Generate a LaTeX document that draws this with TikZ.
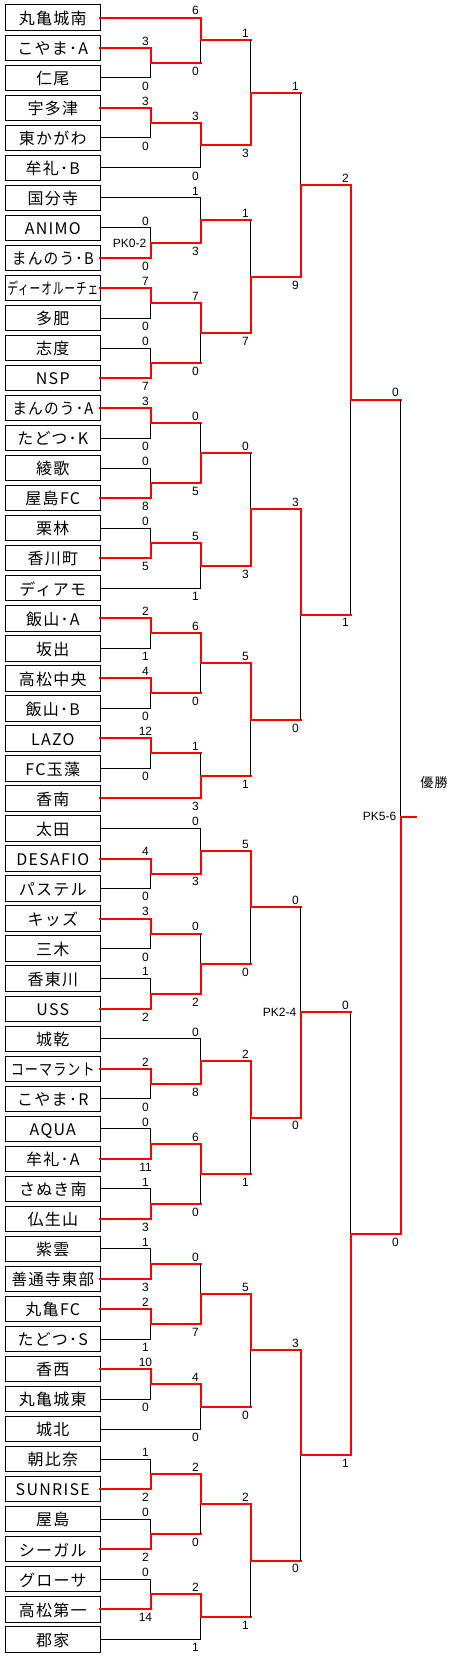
\documentclass[tikz,border=0pt]{standalone}
\usepackage{fontspec}
\setmainfont{Liberation Sans}
\newfontfamily\jp[LetterSpace=8]{Noto Sans CJK JP}
\usepackage{graphicx}
\usetikzlibrary{positioning, calc}

% name, column, upper, lower, winner (u/l), loser line style, upper score, lower score
\newcommand\match[8]{%
  \coordinate (#1) at ($(#2 |- #3)!.5!(#2 |- #4)$);
  \if u#5
    \draw[#6] (#4) -- (#2 |- #4);
    \draw[lose] (#2 |- #4) -- (#1);
    \draw[win] (#3) -| (#1);
  \else
    \draw[#6] (#3) -- (#2 |- #3);
    \draw[lose] (#2 |- #3) -- (#1);
    \draw[win] (#4) -| (#1);
  \fi
  \path (#2 |- #3) ++(-5,-2.7) node[score] (#1u) {#7};
  \path (#2 |- #4) ++(-5,12.4) node[score] (#1l) {#8};
}

\begin{document}
\begin{tikzpicture}[
  x=1pt, y=-1pt,
  node distance=4.63pt,
  team/.style={
    draw, line width=1pt, minimum width=95pt, minimum height=25.4pt,
    inner sep=0pt, outer sep=0pt, text height=15.5pt, text depth=2pt,
    font=\jp\fontsize{16}{16}\selectfont
  },
  score/.style={anchor=base, inner sep=0pt, font=\fontsize{12}{12}\selectfont},
  pk/.style={anchor=east, inner sep=0pt, font=\fontsize{12}{12}\selectfont},
  win/.style={draw=red, line width=2pt, line cap=rect},
  lose/.style={draw=black, line width=1pt}
]
\useasboundingbox (0,0) rectangle (450,1659);

\coordinate (c1) at (150.5,0);
\coordinate (c2) at (200.5,0);
\coordinate (c3) at (250.5,0);
\coordinate (c4) at (300.5,0);
\coordinate (c5) at (350.5,0);
\coordinate (c6) at (400.5,0);

\node[team] (t0) at (52.8,17.7) {丸亀城南};
\node[team, below=of t0] (t1) {こやま･A};
\node[team, below=of t1] (t2) {仁尾};
\node[team, below=of t2] (t3) {宇多津};
\node[team, below=of t3] (t4) {東かがわ};
\node[team, below=of t4] (t5) {牟礼･B};
\node[team, below=of t5] (t6) {国分寺};
\node[team, below=of t6] (t7) {ANIMO};
\node[team, below=of t7] (t8) {\scalebox{0.92}[1]{まんのう･B}};
\node[team, below=of t8] (t9) {\scalebox{0.67}[1]{ディーオルーチェ}};
\node[team, below=of t9] (t10) {多肥};
\node[team, below=of t10] (t11) {志度};
\node[team, below=of t11] (t12) {NSP};
\node[team, below=of t12] (t13) {\scalebox{0.92}[1]{まんのう･A}};
\node[team, below=of t13] (t14) {たどつ･K};
\node[team, below=of t14] (t15) {綾歌};
\node[team, below=of t15] (t16) {屋島FC};
\node[team, below=of t16] (t17) {栗林};
\node[team, below=of t17] (t18) {香川町};
\node[team, below=of t18] (t19) {ディアモ};
\node[team, below=of t19] (t20) {飯山･A};
\node[team, below=of t20] (t21) {坂出};
\node[team, below=of t21] (t22) {高松中央};
\node[team, below=of t22] (t23) {飯山･B};
\node[team, below=of t23] (t24) {LAZO};
\node[team, below=of t24] (t25) {FC玉藻};
\node[team, below=of t25] (t26) {香南};
\node[team, below=of t26] (t27) {太田};
\node[team, below=of t27] (t28) {DESAFIO};
\node[team, below=of t28] (t29) {パステル};
\node[team, below=of t29] (t30) {キッズ};
\node[team, below=of t30] (t31) {三木};
\node[team, below=of t31] (t32) {香東川};
\node[team, below=of t32] (t33) {USS};
\node[team, below=of t33] (t34) {城乾};
\node[team, below=of t34] (t35) {\scalebox{0.82}[1]{コーマラント}};
\node[team, below=of t35] (t36) {こやま･R};
\node[team, below=of t36] (t37) {AQUA};
\node[team, below=of t37] (t38) {牟礼･A};
\node[team, below=of t38] (t39) {さぬき南};
\node[team, below=of t39] (t40) {仏生山};
\node[team, below=of t40] (t41) {紫雲};
\node[team, below=of t41] (t42) {\scalebox{0.97}[1]{善通寺東部}};
\node[team, below=of t42] (t43) {丸亀FC};
\node[team, below=of t43] (t44) {たどつ･S};
\node[team, below=of t44] (t45) {香西};
\node[team, below=of t45] (t46) {丸亀城東};
\node[team, below=of t46] (t47) {城北};
\node[team, below=of t47] (t48) {朝比奈};
\node[team, below=of t48] (t49) {SUNRISE};
\node[team, below=of t49] (t50) {屋島};
\node[team, below=of t50] (t51) {シーガル};
\node[team, below=of t51] (t52) {グローサ};
\node[team, below=of t52] (t53) {高松第一};
\node[team, below=of t53] (t54) {郡家};

% upper half
\match{m1}{c1}{t1.east}{t2.east}{u}{lose}{3}{0}
\match{m2}{c2}{t0.east}{m1}{u}{win}{6}{0}
\match{m3}{c1}{t3.east}{t4.east}{u}{lose}{3}{0}
\match{m4}{c2}{m3}{t5.east}{u}{lose}{3}{0}
\match{m5}{c3}{m2}{m4}{l}{win}{1}{3}
\match{m6}{c1}{t7.east}{t8.east}{l}{lose}{0}{0}
\match{m7}{c2}{t6.east}{m6}{l}{lose}{1}{3}
\match{m8}{c1}{t9.east}{t10.east}{u}{lose}{7}{0}
\match{m9}{c1}{t11.east}{t12.east}{l}{lose}{0}{7}
\match{m10}{c2}{m8}{m9}{u}{win}{7}{0}
\match{m11}{c3}{m7}{m10}{l}{win}{1}{7}
\match{m12}{c4}{m5}{m11}{l}{win}{1}{9}
\match{m13}{c1}{t13.east}{t14.east}{u}{lose}{3}{0}
\match{m14}{c1}{t15.east}{t16.east}{l}{lose}{0}{8}
\match{m15}{c2}{m13}{m14}{l}{win}{0}{5}
\match{m16}{c1}{t17.east}{t18.east}{l}{lose}{0}{5}
\match{m17}{c2}{m16}{t19.east}{u}{lose}{5}{1}
\match{m18}{c3}{m15}{m17}{l}{win}{0}{3}
\match{m19}{c1}{t20.east}{t21.east}{u}{lose}{2}{1}
\match{m20}{c1}{t22.east}{t23.east}{u}{lose}{4}{0}
\match{m21}{c2}{m19}{m20}{u}{win}{6}{0}
\match{m22}{c1}{t24.east}{t25.east}{u}{lose}{12}{0}
\match{m23}{c2}{m22}{t26.east}{l}{win}{1}{3}
\match{m24}{c3}{m21}{m23}{u}{win}{5}{1}
\match{m25}{c4}{m18}{m24}{u}{win}{3}{0}
\match{m26}{c5}{m12}{m25}{u}{win}{2}{1}

% lower half
\match{m27}{c1}{t28.east}{t29.east}{u}{lose}{4}{0}
\match{m28}{c2}{t27.east}{m27}{l}{lose}{0}{3}
\match{m29}{c1}{t30.east}{t31.east}{u}{lose}{3}{0}
\match{m30}{c1}{t32.east}{t33.east}{l}{lose}{1}{2}
\match{m31}{c2}{m29}{m30}{l}{win}{0}{2}
\match{m32}{c3}{m28}{m31}{u}{win}{5}{0}
\match{m33}{c1}{t35.east}{t36.east}{u}{lose}{2}{0}
\match{m34}{c2}{t34.east}{m33}{l}{lose}{0}{8}
\match{m35}{c1}{t37.east}{t38.east}{l}{lose}{0}{11}
\match{m36}{c1}{t39.east}{t40.east}{l}{lose}{1}{3}
\match{m37}{c2}{m35}{m36}{u}{win}{6}{0}
\match{m38}{c3}{m34}{m37}{u}{win}{2}{1}
\match{m39}{c4}{m32}{m38}{l}{win}{0}{0}
\match{m40}{c1}{t41.east}{t42.east}{l}{lose}{1}{3}
\match{m41}{c1}{t43.east}{t44.east}{u}{lose}{2}{1}
\match{m42}{c2}{m40}{m41}{l}{win}{0}{7}
\match{m43}{c1}{t45.east}{t46.east}{u}{lose}{10}{0}
\match{m44}{c2}{m43}{t47.east}{u}{lose}{4}{0}
\match{m45}{c3}{m42}{m44}{u}{win}{5}{0}
\match{m46}{c1}{t48.east}{t49.east}{l}{lose}{1}{2}
\match{m47}{c1}{t50.east}{t51.east}{l}{lose}{0}{2}
\match{m48}{c2}{m46}{m47}{u}{win}{2}{0}
\match{m49}{c1}{t52.east}{t53.east}{l}{lose}{0}{14}
\match{m50}{c2}{m49}{t54.east}{u}{lose}{2}{1}
\match{m51}{c3}{m48}{m50}{u}{win}{2}{1}
\match{m52}{c4}{m45}{m51}{u}{win}{3}{0}
\match{m53}{c5}{m39}{m52}{l}{win}{0}{1}

% final
\match{fin}{c6}{m26}{m53}{l}{win}{0}{0}
\coordinate (champ) at ($(fin)+(15.4,0)$);
\draw[win] (fin) -- (champ);

\node[pk] (pk1) at ($(m6)+(-4,0)$) {PK0-2};
\node[pk] (pk2) at ($(m39)+(-4,0)$) {PK2-4};
\node[pk] (pk3) at ($(fin)+(-4,0)$) {PK5-6};
\node[font=\jp\fontsize{13}{13}\selectfont, inner sep=0pt] (title) at (434,783) {優勝};
\end{tikzpicture}
\end{document}
